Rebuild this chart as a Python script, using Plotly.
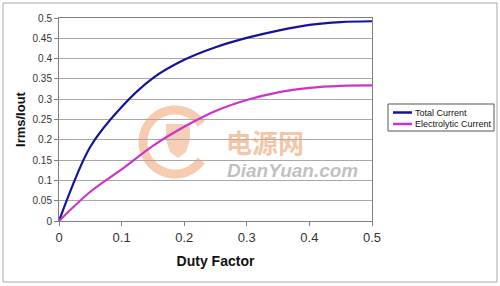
import numpy as np
import plotly.graph_objects as go

duty = [0, 0.05, 0.1, 0.15, 0.2, 0.25, 0.3, 0.35, 0.4, 0.45, 0.5]
total_current = [0, 0.183, 0.281, 0.352, 0.397, 0.428, 0.451, 0.469, 0.483, 0.49, 0.492]
electrolytic_current = [0, 0.072, 0.127, 0.185, 0.232, 0.271, 0.298, 0.317, 0.328, 0.333, 0.334]
series_names = ["Total Current", "Electrolytic Current"]
series_colors = ["#14149a", "#cc33cc"]
x_ticks = [0, 0.1, 0.2, 0.3, 0.4, 0.5]
y_ticks = [0, 0.05, 0.1, 0.15, 0.2, 0.25, 0.3, 0.35, 0.4, 0.45, 0.5]

FONT = "Arial, Liberation Sans, sans-serif"
W, H = 500, 286
L, R, T, B = 59, 372, 18, 221

def px(x):
    return (x - L) / (R - L)

def py(y):
    return (B - y) / (B - T)

fig = go.Figure()
for name, vals, col in zip(series_names, [total_current, electrolytic_current], series_colors):
    fig.add_trace(go.Scatter(x=duty, y=vals, mode="lines", name=name, showlegend=False,
                             line=dict(color=col, width=2.2, shape="spline", smoothing=0.9)))

shapes = []
# outer chart border
shapes.append(dict(type="rect", xref="paper", yref="paper", x0=px(3), x1=px(497), y0=py(282), y1=py(3),
                   line=dict(color="#a8a8a8", width=1), layer="below"))
# watermark ring (arc with gap on right)
cx, cy, r = 175, 142, 32
ang = np.linspace(np.radians(35), np.radians(325), 60)
pts = [(cx + r * np.cos(a), cy - r * np.sin(a)) for a in ang]
path = "M " + " L ".join(f"{px(x):.4f},{py(y):.4f}" for x, y in pts)
shapes.append(dict(type="path", xref="paper", yref="paper", path=path,
                   line=dict(color="rgba(238,160,110,0.55)", width=9), layer="below"))
# plug icon
plug = [(166, 124), (166, 140), (170, 152), (178, 158), (186, 152), (190, 140), (190, 124)]
ppath = "M " + " L ".join(f"{px(x):.4f},{py(y):.4f}" for x, y in plug) + " Z"
shapes.append(dict(type="path", xref="paper", yref="paper", path=ppath,
                   fillcolor="rgba(238,160,110,0.5)", line=dict(width=0), layer="below"))

# legend box (drawn manually to match the reference's compact legend)
shapes.append(dict(type="rect", xref="paper", yref="paper", x0=px(388), x1=px(494), y0=py(131), y1=py(104),
                   line=dict(color="#555555", width=1), fillcolor="white", layer="above"))
annotations = []
for i, (name, col) in enumerate(zip(series_names, series_colors)):
    yy = 112.5 + i * 11.5
    shapes.append(dict(type="line", xref="paper", yref="paper", x0=px(393), x1=px(412), y0=py(yy), y1=py(yy),
                       line=dict(color=col, width=2.5), layer="above"))
    annotations.append(dict(text=name, xref="paper", yref="paper", x=px(413), y=py(yy), xanchor="left",
                            yanchor="middle", showarrow=False,
                            font=dict(family=FONT, size=9, color="#111111")))

annotations += [
    dict(text="<b>电源网</b>", xref="paper", yref="paper", x=px(265), y=py(141), xanchor="center",
         yanchor="middle", showarrow=False,
         font=dict(family="Noto Sans CJK SC", size=26, color="rgba(238,160,110,0.6)")),
    dict(text="<b><i>DianYuan.com</i></b>", xref="paper", yref="paper", x=px(292), y=py(170),
         xanchor="center", yanchor="middle", showarrow=False,
         font=dict(family=FONT, size=19, color="rgba(150,150,150,0.6)")),
]

fig.update_layout(
    width=W, height=H,
    margin=dict(l=L, r=W - R, t=T, b=H - B, pad=0, autoexpand=False),
    paper_bgcolor="white", plot_bgcolor="white",
    font=dict(family=FONT, color="#222222"),
    shapes=shapes, annotations=annotations,
    showlegend=False,
    xaxis=dict(range=[0, 0.5], tickvals=x_ticks, ticktext=[f"{v:g}" for v in x_ticks],
               showgrid=False, zeroline=False, showline=True, linecolor="#808080", linewidth=1,
               mirror=True, ticks="outside", ticklen=4, tickcolor="#808080",
               tickfont=dict(family=FONT, size=13, color="#333333"),
               title=dict(text="<b>Duty Factor</b>", font=dict(family=FONT, size=14, color="#111111"),
                          standoff=12)),
    yaxis=dict(range=[0, 0.5], tickvals=y_ticks, ticktext=[f"{v:g}" for v in y_ticks],
               showgrid=True, gridcolor="#a8a8a8", gridwidth=1, zeroline=False,
               showline=True, linecolor="#808080", linewidth=1, mirror=True,
               ticks="outside", ticklen=4, tickcolor="#808080",
               tickfont=dict(family=FONT, size=10, color="#333333"),
               title=dict(text="<b>Irms/Iout</b>", font=dict(family=FONT, size=13, color="#111111"),
                          standoff=3)),
)

fig.write_html("out.html")
